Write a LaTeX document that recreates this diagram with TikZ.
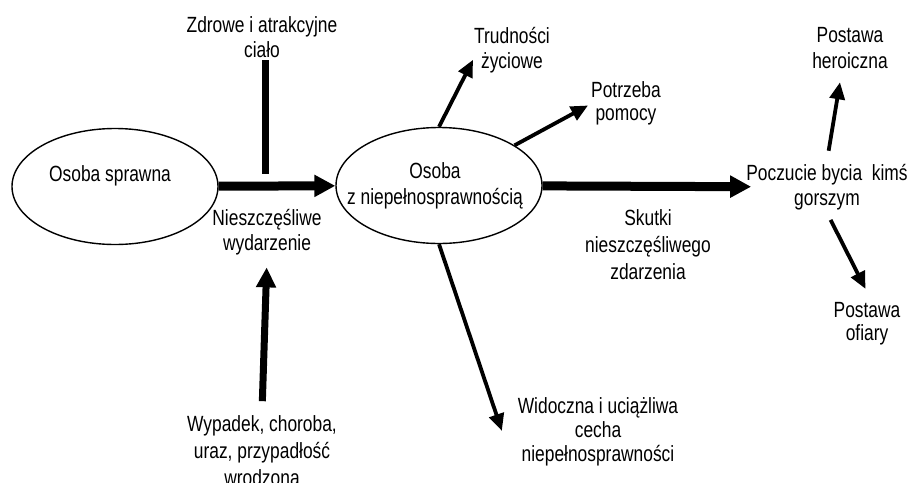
\documentclass[tikz,border=0pt]{standalone}
\usepackage{fontspec}
\setmainfont{Liberation Sans}[FakeStretch=0.79]
\usetikzlibrary{arrows.meta,shapes.geometric}
\begin{document}
\begin{tikzpicture}[x=1pt,y=-1pt,
  % multi-line labels are placed by the baseline of their last line
  txt/.style={align=center, inner sep=3pt, anchor=base,
    font=\fontsize{22}{#1}\selectfont},
  txt/.default=25,
  oval/.style={draw, ellipse, line width=1.4pt, inner sep=0pt,
    minimum width=206pt, minimum height=116pt},
  bigarrow/.style={line width=9pt, -{Triangle[length=21pt,width=21pt]}},
  midarrow/.style={line width=7pt, -{Triangle[length=20pt,width=19pt]}},
  thinarrow/.style={line width=3.8pt, -{Triangle[length=17pt,width=15pt]}},
  bar/.style={line width=7.5pt}]
\useasboundingbox (0,0) rectangle (909,482);

% the two persons
\node[oval] (e1) at (115,186.5) {};
\node[oval] (e2) at (439,185.5) {};
\node[txt] (lab1) at (110,181) {Osoba sprawna};
\node[txt=26] (lab2) at (435,204) {Osoba\\z niepełnosprawnością};

% labels
\node[txt] (zdr) at (262,57) {Zdrowe i atrakcyjne\\ciało};
\node[txt] (nie) at (267,250) {Nieszczęśliwe\\wydarzenie};
\node[txt=27] (wyp) at (262,485) {Wypadek, choroba,\\uraz, przypadłość\\wrodzona};
\node[txt] (trud) at (512,68) {Trudności\\życiowe};
\node[txt=23] (pot) at (626,120) {Potrzeba\\pomocy};
\node[txt=27] (sku) at (648,279) {Skutki\\nieszczęśliwego\\zdarzenia};
\node[txt=24] (wid) at (598,461) {Widoczna i uciążliwa\\cecha\\niepełnosprawności};
\node[txt] (poc) at (827,205) {Poczucie bycia~ kimś\\gorszym};
\node[txt=26] (her) at (850,68) {Postawa\\heroiczna};
\node[txt=23] (ofi) at (867,340) {Postawa\\ofiary};

% connectors
\draw[bigarrow] (e1) -- coordinate[pos=0.4] (ev) (e2);
\draw[bar, shorten >=12.5pt] (ev |- zdr.south) -- (ev);
\draw[midarrow, shorten <=10.7pt, shorten >=9.6pt] (wyp.north) -- (nie.south);
\draw[thinarrow, shorten >=-4.5pt] (e2.north) -- (trud.199);
\draw[thinarrow] (e2.28) -- (pot.184);
\draw[bigarrow, shorten >=-8pt] (e2) -- (poc.west);
\draw[thinarrow, shorten >=40pt] (e2.south) -- (wid.south west);
\draw[thinarrow, shorten <=10pt, shorten >=11pt] (poc.north) -- (her.251);
\draw[thinarrow, shorten <=8pt, shorten >=11pt] (poc.south) -- (ofi.82);
\end{tikzpicture}
\end{document}
